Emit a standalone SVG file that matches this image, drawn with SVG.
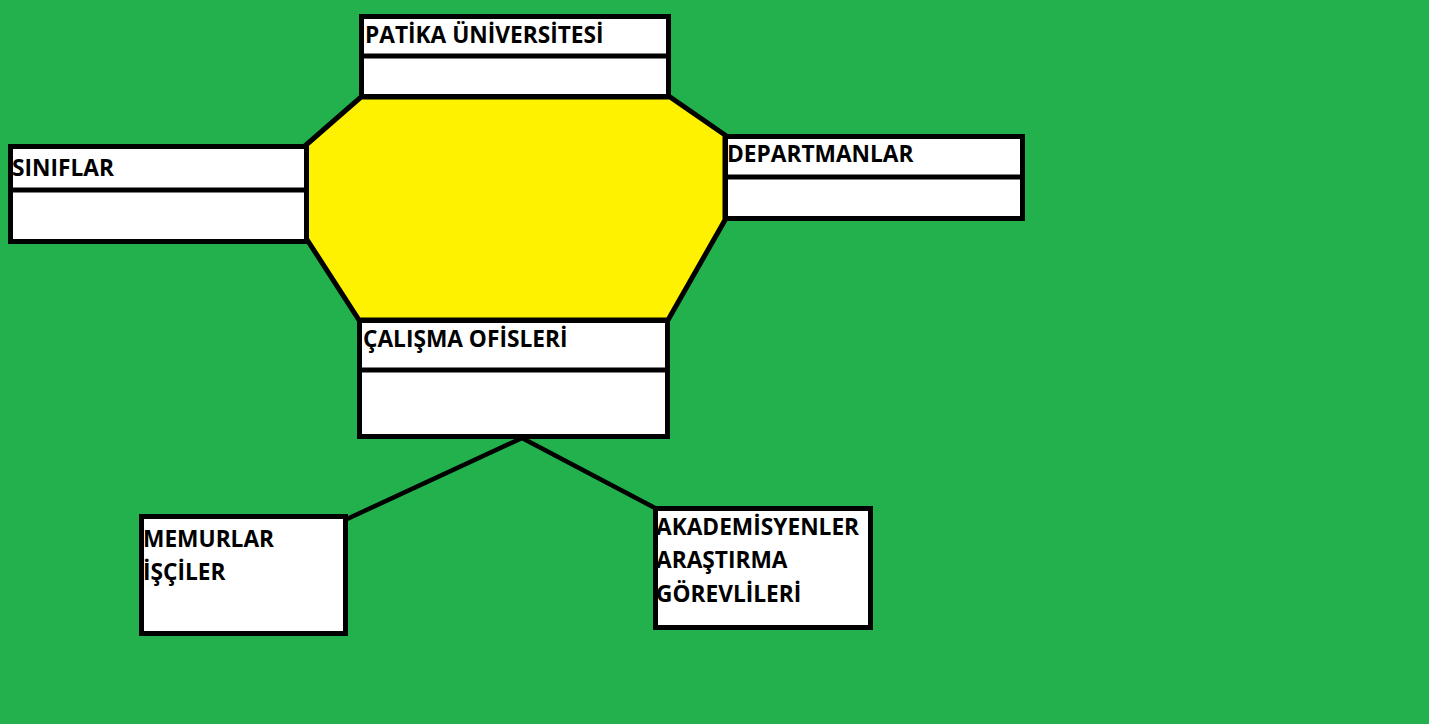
<svg xmlns="http://www.w3.org/2000/svg" width="1429" height="724" viewBox="0 0 1429 724">
<style>
.box{fill:#ffffff;stroke:#000000;stroke-width:5}
.div{stroke:#000000;stroke-width:5}
.lbl{font-family:"Open Sans","Noto Sans","Liberation Sans",sans-serif;font-weight:bold;font-size:22.7px;fill:#000000}
.conn{stroke:#000000;stroke-width:4.5;fill:none}
</style>
<rect x="0" y="0" width="1429" height="724" fill="#22B14C"/>
<g id="center">
<polygon points="361,97 670,97 725,135 725,220 668,320 359,320 306,238 306,145" fill="#FFF200" stroke="#000000" stroke-width="5" stroke-linejoin="miter"/>
</g>
<g id="connectors">
<line class="conn" x1="522" y1="438" x2="347" y2="519"/>
<line class="conn" x1="522" y1="438" x2="655" y2="508"/>
</g>
<g id="patika">
<rect class="box" x="361.5" y="16.5" width="307" height="80"/>
<line class="div" x1="361" y1="56" x2="669" y2="56"/>
<text class="lbl" x="365" y="43">PATİKA ÜNİVERSİTESİ</text>
</g>
<g id="siniflar">
<rect class="box" x="10.5" y="146.5" width="296" height="95"/>
<line class="div" x1="8" y1="190" x2="307" y2="190"/>
<text class="lbl" x="12" y="176">SINIFLAR</text>
</g>
<g id="departmanlar">
<rect class="box" x="725.5" y="136.5" width="297" height="82"/>
<line class="div" x1="725" y1="177" x2="1023" y2="177"/>
<text class="lbl" x="727" y="162">DEPARTMANLAR</text>
</g>
<g id="calisma">
<rect class="box" x="359.5" y="320.5" width="308" height="116"/>
<line class="div" x1="357" y1="370" x2="668" y2="370"/>
<text class="lbl" x="363" y="347">ÇALIŞMA OFİSLERİ</text>
</g>
<g id="memurlar">
<rect class="box" x="141.5" y="516.5" width="204" height="117"/>
<text class="lbl" x="143" y="547">MEMURLAR</text>
<text class="lbl" x="143" y="580">İŞÇİLER</text>
</g>
<g id="akademisyenler">
<rect class="box" x="655.5" y="508.5" width="215" height="119"/>
<text class="lbl" x="656" y="535">AKADEMİSYENLER</text>
<text class="lbl" x="656" y="568">ARAŞTIRMA</text>
<text class="lbl" x="656" y="602">GÖREVLİLERİ</text>
</g>
</svg>
